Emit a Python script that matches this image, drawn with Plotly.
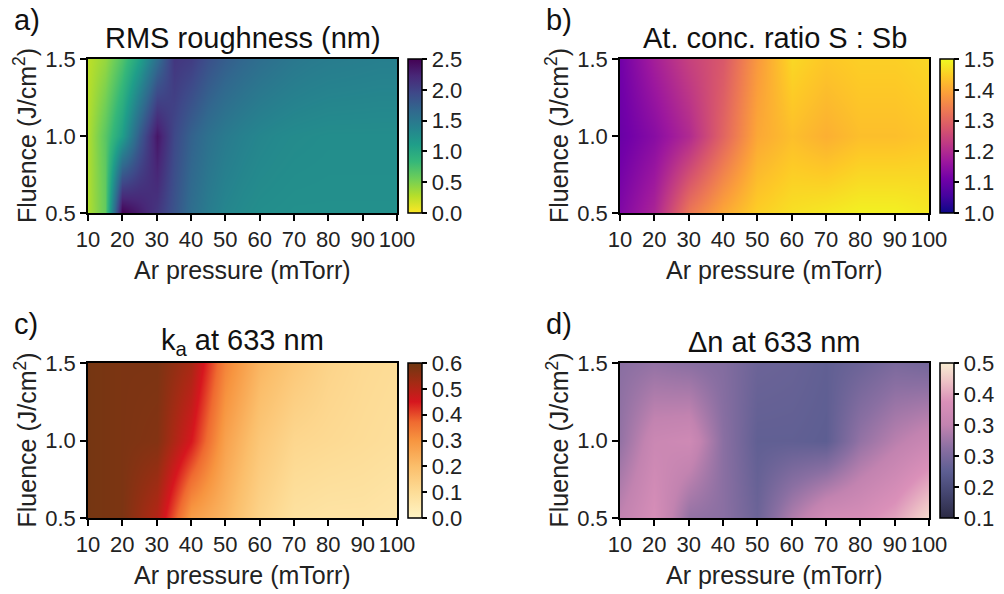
import plotly.graph_objects as go

# ---------------- data ----------------
pressure = [10, 20, 30, 40, 50, 60, 70, 80, 90, 100]   # mTorr
pressure_a = [10, 15, 20, 25, 30, 35, 40, 45, 50, 55, 60, 65, 70, 75, 80,
              85, 90, 95, 100]                          # mTorr (panel a)
fluence = [0.5, 1.0, 1.5]                              # J/cm^2

rms = [
    [0.30, 0.60, 2.50, 2.30, 2.10, 1.85, 1.60, 1.45, 1.35, 1.30, 1.27, 1.26,
     1.25, 1.25, 1.25, 1.25, 1.25, 1.25, 1.25],
    [0.30, 0.65, 1.10, 1.80, 2.35, 1.95, 1.72, 1.57, 1.47, 1.40, 1.35, 1.32,
     1.30, 1.29, 1.28, 1.28, 1.28, 1.28, 1.28],
    [0.25, 0.40, 0.70, 1.10, 1.60, 2.10, 2.05, 1.88, 1.76, 1.67, 1.60, 1.55,
     1.50, 1.47, 1.45, 1.44, 1.43, 1.42, 1.42],
]
ratio = [
    [1.13, 1.19, 1.33, 1.40, 1.45, 1.47, 1.48, 1.49, 1.49, 1.48],
    [1.10, 1.14, 1.20, 1.30, 1.40, 1.43, 1.41, 1.43, 1.43, 1.44],
    [1.11, 1.18, 1.24, 1.28, 1.38, 1.46, 1.44, 1.45, 1.45, 1.46],
]
ka = [
    [0.59, 0.58, 0.50, 0.28, 0.22, 0.13, 0.08, 0.07, 0.07, 0.06],
    [0.59, 0.58, 0.57, 0.45, 0.27, 0.17, 0.12, 0.11, 0.10, 0.09],
    [0.59, 0.58, 0.58, 0.52, 0.33, 0.22, 0.17, 0.13, 0.11, 0.10],
]
dn = [
    [0.34, 0.39, 0.29, 0.28, 0.24, 0.32, 0.38, 0.39, 0.42, 0.48],
    [0.29, 0.36, 0.37, 0.28, 0.225, 0.225, 0.22, 0.29, 0.33, 0.36],
    [0.28, 0.29, 0.28, 0.27, 0.24, 0.235, 0.225, 0.24, 0.26, 0.25],
]

titles = ["RMS roughness (nm)", "At. conc. ratio S : Sb",
          "k<sub>a</sub> at 633 nm", "\u0394n at 633 nm"]
labels = ["a)", "b)", "c)", "d)"]
x_ticks = [10, 20, 30, 40, 50, 60, 70, 80, 90, 100]
y_ticks = [0.5, 1.0, 1.5]
cb_ticks = [
    [0.0, 0.5, 1.0, 1.5, 2.0, 2.5],
    [1.0, 1.1, 1.2, 1.3, 1.4, 1.5],
    [0.0, 0.1, 0.2, 0.3, 0.4, 0.5, 0.6],
    [0.1, 0.18, 0.26, 0.34, 0.42, 0.5],
]
cb_text = [
    ["0.0", "0.5", "1.0", "1.5", "2.0", "2.5"],
    ["1.0", "1.1", "1.2", "1.3", "1.4", "1.5"],
    ["0.0", "0.1", "0.2", "0.3", "0.4", "0.5", "0.6"],
    ["0.1", "0.2", "0.3", "0.3", "0.4", "0.5"],
]
zranges = [(0, 2.5), (1.0, 1.5), (0, 0.6), (0.1, 0.5)]

# ---------------- styles ----------------
W, H = 1004, 594
FONT = "Liberation Sans, Arial, sans-serif"
scale_c = [[0.0, "#fff4c4"], [0.17, "#fddc96"], [0.33, "#fbbf6c"],
           [0.5, "#f79540"], [0.62, "#ef6a30"], [0.75, "#d6161e"],
           [0.87, "#a52a14"], [1.0, "#6e3812"]]
scale_d = [[0.0, "#2c2b45"], [0.15, "#43446e"], [0.3, "#5d5e92"],
           [0.45, "#8a6fa2"], [0.6, "#c283b0"], [0.75, "#da90b9"],
           [0.88, "#eec2c6"], [1.0, "#f8edd2"]]
scales = ["Viridis_r", "Plasma", scale_c, scale_d]

# plot boxes in pixels: (left, right, top, bottom)
boxes = [(88, 397, 59, 213), (620, 929, 59, 213),
         (88, 397, 363, 518), (620, 929, 363, 518)]

fig = go.Figure()
datasets = [rms, ratio, ka, dn]
xs = [pressure_a, pressure, pressure, pressure]

for i, (z, box) in enumerate(zip(datasets, boxes)):
    l, r, t, b = box
    xd = [l / W, r / W]
    yd = [1 - b / H, 1 - t / H]
    n = i + 1
    xa = "x" if n == 1 else f"x{n}"
    ya = "y" if n == 1 else f"y{n}"
    fig.add_trace(go.Heatmap(
        x=xs[i], y=fluence, z=z, xaxis=xa, yaxis=ya,
        zsmooth="best", colorscale=scales[i],
        zmin=zranges[i][0], zmax=zranges[i][1],
        colorbar=dict(
            x=(r + 11) / W, xanchor="left", xpad=0, ypad=0,
            y=(yd[0] + yd[1]) / 2, yanchor="middle",
            len=(b - t) / H, lenmode="fraction",
            thickness=14, thicknessmode="pixels",
            outlinewidth=1.5, outlinecolor="black",
            ticks="outside", ticklen=5, tickwidth=1.5, tickcolor="black",
            tickvals=cb_ticks[i], ticktext=cb_text[i],
            tickfont=dict(family=FONT, size=22, color="#222"),
        ),
    ))
    axis_common = dict(showline=True, linecolor="black", linewidth=1.5,
                       mirror=True, ticks="outside", ticklen=6, tickwidth=1.5,
                       tickcolor="black", showgrid=False, zeroline=False,
                       automargin=False,
                       tickfont=dict(family=FONT, size=22, color="#222"))
    fig.update_layout(**{
        ("xaxis" if n == 1 else f"xaxis{n}"): dict(
            domain=xd, anchor=ya, range=[10, 100], tickvals=x_ticks,
            ticktext=[str(v) for v in x_ticks], **axis_common),
        ("yaxis" if n == 1 else f"yaxis{n}"): dict(
            domain=yd, anchor=xa, range=[0.5, 1.5], tickvals=y_ticks,
            ticktext=["0.5", "1.0", "1.5"], **axis_common),
    })
    # inner mirrored ticks (top and right)
    m = n + 4
    fig.update_layout(**{
        f"xaxis{m}": dict(overlaying=xa, anchor=ya, side="top",
                          range=[10, 100], tickvals=x_ticks, ticks="inside",
                          ticklen=6, tickwidth=1.5, tickcolor="black",
                          showticklabels=False, showgrid=False, zeroline=False,
                          showline=False, automargin=False),
        f"yaxis{m}": dict(overlaying=ya, anchor=xa, side="right",
                          range=[0.5, 1.5], tickvals=[1.0], ticks="inside",
                          ticklen=6, tickwidth=1.5, tickcolor="black",
                          showticklabels=False, showgrid=False, zeroline=False,
                          showline=False, automargin=False),
    })
    cx = (l + r) / 2 / W
    # panel title
    fig.add_annotation(text=titles[i], x=cx, y=1 - (t - 21) / H,
                       xref="paper", yref="paper", showarrow=False,
                       xanchor="center", yanchor="middle",
                       font=dict(family=FONT, size=29, color="#111"))
    # panel label
    fig.add_annotation(text=labels[i], x=(l - 76) / W, y=1 - (t - 39) / H,
                       xref="paper", yref="paper", showarrow=False,
                       xanchor="left", yanchor="middle",
                       font=dict(family=FONT, size=29, color="#111"))
    # x-axis title
    fig.add_annotation(text="Ar pressure (mTorr)", x=cx, y=1 - (b + 57) / H,
                       xref="paper", yref="paper", showarrow=False,
                       xanchor="center", yanchor="middle",
                       font=dict(family=FONT, size=25, color="#222"))
    # y-axis title
    fig.add_annotation(text="Fluence (J/cm<sup>2</sup>)", x=(l - 63) / W,
                       y=(yd[0] + yd[1]) / 2, xref="paper", yref="paper",
                       showarrow=False, textangle=-90,
                       xanchor="center", yanchor="middle",
                       font=dict(family=FONT, size=25, color="#222"))

fig.update_layout(width=W, height=H,
                  margin=dict(l=0, r=0, t=0, b=0, autoexpand=False),
                  paper_bgcolor="white", plot_bgcolor="white",
                  showlegend=False)

fig.write_html("out.html")
